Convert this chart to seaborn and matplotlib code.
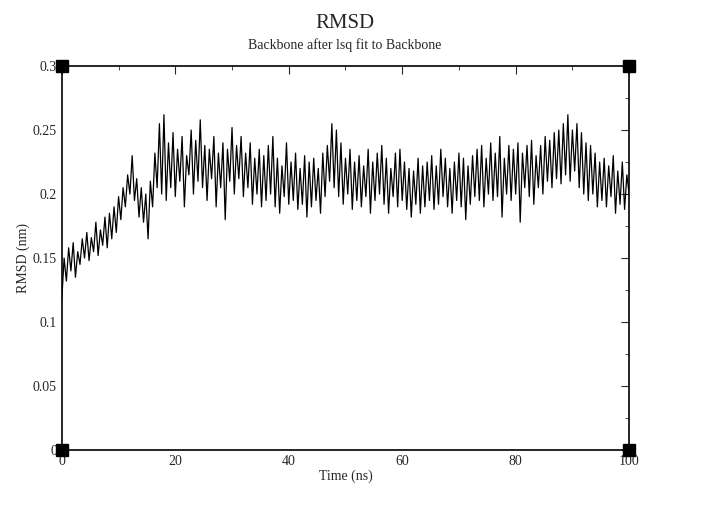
import seaborn as sns
import matplotlib.pyplot as plt
import matplotlib.ticker as mticker
import pandas as pd

# RMSD trace (nm), one value every 0.4 ns
rmsd = [
    0.118, 0.150, 0.132, 0.158, 0.140, 0.162, 0.135, 0.155, 0.145, 0.165,
    0.150, 0.170, 0.148, 0.166, 0.155, 0.178, 0.152, 0.172, 0.160, 0.182,
    0.158, 0.185, 0.165, 0.190, 0.170, 0.198, 0.180, 0.205, 0.190, 0.215,
    0.200, 0.230, 0.195, 0.212, 0.182, 0.205, 0.178, 0.200, 0.165, 0.210,
    0.190, 0.232, 0.205, 0.255, 0.200, 0.262, 0.195, 0.240, 0.205, 0.248,
    0.198, 0.235, 0.210, 0.245, 0.190, 0.230, 0.215, 0.250, 0.200, 0.242,
    0.210, 0.258, 0.205, 0.238, 0.195, 0.235, 0.212, 0.245, 0.190, 0.232,
    0.205, 0.240, 0.180, 0.235, 0.210, 0.252, 0.200, 0.238, 0.212, 0.245,
    0.198, 0.232, 0.205, 0.240, 0.192, 0.228, 0.200, 0.235, 0.190, 0.230,
    0.195, 0.238, 0.200, 0.245, 0.190, 0.228, 0.185, 0.222, 0.198, 0.240,
    0.192, 0.225, 0.195, 0.232, 0.188, 0.220, 0.192, 0.230, 0.182, 0.225,
    0.190, 0.228, 0.195, 0.220, 0.185, 0.232, 0.198, 0.238, 0.210, 0.255,
    0.205, 0.250, 0.198, 0.240, 0.192, 0.228, 0.200, 0.235, 0.188, 0.225,
    0.195, 0.230, 0.190, 0.222, 0.198, 0.235, 0.185, 0.225, 0.195, 0.232,
    0.200, 0.238, 0.192, 0.228, 0.185, 0.220, 0.198, 0.232, 0.190, 0.235,
    0.195, 0.225, 0.188, 0.220, 0.182, 0.218, 0.192, 0.228, 0.185, 0.222,
    0.190, 0.225, 0.195, 0.230, 0.188, 0.222, 0.192, 0.235, 0.198, 0.228,
    0.190, 0.220, 0.185, 0.225, 0.195, 0.232, 0.190, 0.228, 0.180, 0.222,
    0.192, 0.230, 0.198, 0.235, 0.195, 0.238, 0.190, 0.228, 0.200, 0.240,
    0.195, 0.232, 0.198, 0.245, 0.182, 0.228, 0.200, 0.238, 0.195, 0.235,
    0.200, 0.240, 0.178, 0.232, 0.205, 0.238, 0.198, 0.242, 0.192, 0.230,
    0.205, 0.238, 0.200, 0.245, 0.210, 0.242, 0.205, 0.248, 0.212, 0.250,
    0.208, 0.255, 0.215, 0.262, 0.210, 0.250, 0.218, 0.255, 0.205, 0.248,
    0.200, 0.240, 0.195, 0.238, 0.200, 0.232, 0.190, 0.225, 0.195, 0.228,
    0.190, 0.222, 0.198, 0.230, 0.185, 0.218, 0.192, 0.225, 0.188, 0.215,
    0.200,
]
time_ns = [i * 0.4 for i in range(len(rmsd))]
df = pd.DataFrame({"Time": time_ns, "RMSD": rmsd})

sns.set_style("white")
plt.rcParams["font.family"] = ["Liberation Serif", "DejaVu Serif"]

fig = plt.figure(figsize=(7.19, 5.12), dpi=100)
ax = fig.add_axes([0.086, 0.121, 0.789, 0.750])
sns.lineplot(data=df, x="Time", y="RMSD", color="black", lw=0.9, ax=ax)

ax.set_xlim(0, 100)
ax.set_ylim(0, 0.3)
ax.xaxis.set_major_locator(mticker.MultipleLocator(20))
ax.xaxis.set_minor_locator(mticker.MultipleLocator(10))
ax.yaxis.set_major_locator(mticker.MultipleLocator(0.05))
ax.yaxis.set_minor_locator(mticker.MultipleLocator(0.025))
ax.yaxis.set_major_formatter(mticker.FormatStrFormatter("%g"))
ax.tick_params(which="both", direction="in", top=True, right=True, labelsize=10)
ax.tick_params(which="major", length=6)
ax.tick_params(which="minor", length=3)
for s in ax.spines.values():
    s.set_linewidth(1.2)
    s.set_color("black")

# corner squares as in xmgrace
ax.plot([0, 100, 0, 100], [0, 0, 0.3, 0.3], "s", color="black", ms=8, clip_on=False)

ax.set_xlabel("Time (ns)", fontsize=10, labelpad=1)
ax.set_ylabel("RMSD (nm)", fontsize=10, labelpad=2)
fig.text(0.48, 0.945, "RMSD", ha="center", fontsize=15)
fig.text(0.48, 0.905, "Backbone after lsq fit to Backbone", ha="center", fontsize=10)

fig.savefig("out.png", dpi=100)
